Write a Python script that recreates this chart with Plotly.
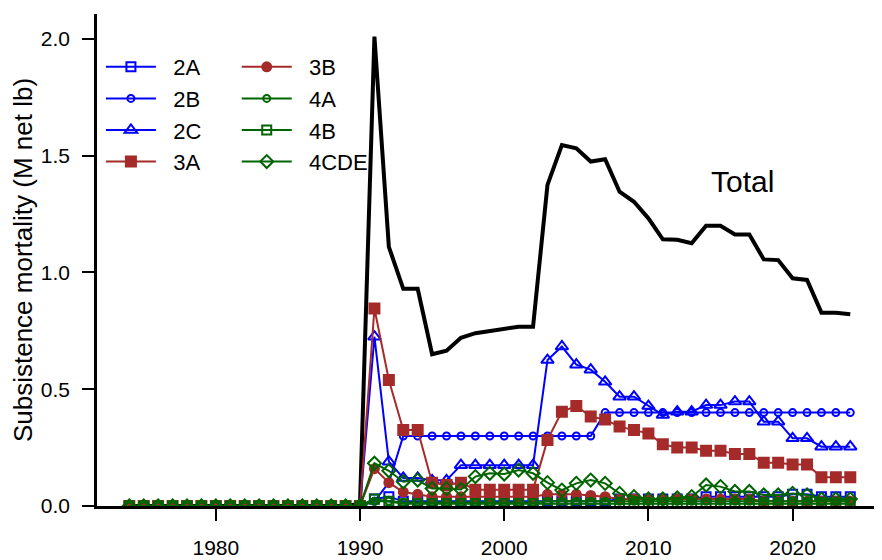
import plotly.graph_objects as go

years = list(range(1974, 2025))

total = [0.0, 0.0, 0.0, 0.0, 0.0, 0.0, 0.0, 0.0, 0.0, 0.0, 0.0, 0.0, 0.0, 0.0, 0.0, 0.0,
         0.01, 2.01, 1.11, 0.93, 0.93, 0.65, 0.665, 0.72, 0.74, 0.75,
         0.757, 0.768, 0.768, 1.375, 1.546, 1.532, 1.475, 1.485, 1.346, 1.303,
         1.232, 1.142, 1.14, 1.125, 1.20, 1.20, 1.163, 1.163, 1.056, 1.053,
         0.975, 0.968, 0.828, 0.828, 0.821]

area_2A = [0.0, 0.0, 0.0, 0.0, 0.0, 0.0, 0.0, 0.0, 0.0, 0.0, 0.0, 0.0, 0.0, 0.0, 0.0, 0.0,
           0.0, 0.03, 0.04, 0.02, 0.02, 0.02, 0.02, 0.02, 0.02, 0.02,
           0.02, 0.02, 0.02, 0.02, 0.02, 0.02, 0.02, 0.02, 0.03, 0.03,
           0.03, 0.03, 0.03, 0.03, 0.04, 0.04, 0.04, 0.04, 0.04, 0.04,
           0.05, 0.05, 0.04, 0.04, 0.04]

area_2B = [0.0, 0.0, 0.0, 0.0, 0.0, 0.0, 0.0, 0.0, 0.0, 0.0, 0.0, 0.0, 0.0, 0.0, 0.0, 0.0,
           0.0, 0.02, 0.10, 0.30, 0.30, 0.30, 0.30, 0.30, 0.30, 0.30,
           0.30, 0.30, 0.30, 0.30, 0.30, 0.30, 0.30, 0.40, 0.40, 0.40,
           0.40, 0.40, 0.40, 0.40, 0.40, 0.40, 0.40, 0.40, 0.40, 0.40,
           0.40, 0.40, 0.40, 0.40, 0.40]

area_2C = [0.0, 0.0, 0.0, 0.0, 0.0, 0.0, 0.0, 0.0, 0.0, 0.0, 0.0, 0.0, 0.0, 0.0, 0.0, 0.0,
           0.0, 0.725, 0.19, 0.12, 0.12, 0.11, 0.11, 0.175, 0.175, 0.175,
           0.175, 0.175, 0.175, 0.625, 0.683, 0.605, 0.584, 0.532, 0.468, 0.468,
           0.428, 0.39, 0.404, 0.404, 0.432, 0.432, 0.447, 0.447, 0.361, 0.361,
           0.29, 0.29, 0.254, 0.254, 0.254]

area_3A = [0.0, 0.0, 0.0, 0.0, 0.0, 0.0, 0.0, 0.0, 0.0, 0.0, 0.0, 0.0, 0.0, 0.0, 0.0, 0.0,
           0.0, 0.846, 0.54, 0.325, 0.325, 0.10, 0.09, 0.10, 0.07, 0.07,
           0.07, 0.07, 0.07, 0.283, 0.404, 0.428, 0.383, 0.37, 0.34, 0.325,
           0.311, 0.264, 0.25, 0.25, 0.237, 0.237, 0.223, 0.223, 0.185, 0.185,
           0.178, 0.178, 0.123, 0.123, 0.123]

area_3B = [0.0, 0.0, 0.0, 0.0, 0.0, 0.0, 0.0, 0.0, 0.0, 0.0, 0.0, 0.0, 0.0, 0.0, 0.0, 0.0,
           0.0, 0.16, 0.10, 0.06, 0.05, 0.04, 0.04, 0.04, 0.04, 0.04,
           0.04, 0.04, 0.04, 0.05, 0.05, 0.05, 0.045, 0.04, 0.03, 0.03,
           0.03, 0.03, 0.03, 0.03, 0.03, 0.03, 0.03, 0.03, 0.02, 0.02,
           0.02, 0.02, 0.02, 0.02, 0.02]

area_4A = [0.0, 0.0, 0.0, 0.0, 0.0, 0.0, 0.0, 0.0, 0.0, 0.0, 0.0, 0.0, 0.0, 0.0, 0.0, 0.0,
           0.0, 0.02, 0.02, 0.015, 0.015, 0.015, 0.015, 0.015, 0.015, 0.015,
           0.015, 0.015, 0.015, 0.02, 0.02, 0.02, 0.02, 0.02, 0.02, 0.02,
           0.02, 0.02, 0.02, 0.02, 0.02, 0.02, 0.02, 0.02, 0.02, 0.02,
           0.02, 0.02, 0.02, 0.02, 0.02]

area_4B = [0.0, 0.0, 0.0, 0.0, 0.0, 0.0, 0.0, 0.0, 0.0, 0.0, 0.0, 0.0, 0.0, 0.0, 0.0, 0.0,
           0.0, 0.03, 0.02, 0.01, 0.01, 0.01, 0.01, 0.01, 0.01, 0.01,
           0.01, 0.01, 0.01, 0.01, 0.01, 0.01, 0.01, 0.01, 0.01, 0.01,
           0.01, 0.01, 0.01, 0.01, 0.01, 0.01, 0.01, 0.01, 0.01, 0.01,
           0.01, 0.01, 0.01, 0.01, 0.01]

area_4CDE = [0.0, 0.0, 0.0, 0.0, 0.0, 0.0, 0.0, 0.0, 0.0, 0.0, 0.0, 0.0, 0.0, 0.0, 0.0, 0.0,
             0.0, 0.183, 0.151, 0.104, 0.111, 0.075, 0.075, 0.071, 0.126, 0.14,
             0.137, 0.154, 0.14, 0.10, 0.068, 0.097, 0.111, 0.097, 0.054, 0.04,
             0.03, 0.03, 0.035, 0.04, 0.09, 0.083, 0.062, 0.062, 0.047, 0.047,
             0.054, 0.047, 0.03, 0.03, 0.03]

x_ticks = [1980, 1990, 2000, 2010, 2020]
y_ticks = [0.0, 0.5, 1.0, 1.5, 2.0]

BLUE = "#0000FF"
BROWN = "#A52A2A"
GREEN = "#006400"
FONT = "Arial, Liberation Sans, sans-serif"
PAD = "\u00a0\u00a0"

series = [
    ("2A", area_2A, BLUE, "square-open", 9, "legend"),
    ("2B", area_2B, BLUE, "circle-open", 7, "legend"),
    ("2C", area_2C, BLUE, "triangle-up-open", 11, "legend"),
    ("3A", area_3A, BROWN, "square", 10, "legend"),
    ("3B", area_3B, BROWN, "circle", 9, "legend2"),
    ("4A", area_4A, GREEN, "circle-open", 7, "legend2"),
    ("4B", area_4B, GREEN, "square-open", 9, "legend2"),
    ("4CDE", area_4CDE, GREEN, "diamond-open", 10, "legend2"),
]

fig = go.Figure()

fig.add_trace(go.Scatter(x=years, y=total, mode="lines", name="Total",
                         line=dict(color="black", width=4), showlegend=False))

for name, vals, col, sym, sz, lg in series:
    fig.add_trace(go.Scatter(
        x=years, y=vals, mode="lines+markers", name=PAD + name, legend=lg,
        line=dict(color=col, width=2),
        marker=dict(symbol=sym, size=sz, color=col, line=dict(color=col, width=2)),
    ))

fig.add_annotation(x=2016.5, y=1.39, text="Total", showarrow=False,
                   font=dict(family=FONT, size=30, color="black"))

# page body has an 8px margin; figure sized so plot area lands where the reference has it
fig.update_layout(
    width=874, height=552,
    margin=dict(l=89, r=0, t=6, b=54),
    plot_bgcolor="white", paper_bgcolor="white",
    font=dict(family=FONT, color="black"),
    legend=dict(x=0.005, y=0.935, xanchor="left", yanchor="top",
                bgcolor="rgba(0,0,0,0)", font=dict(size=22, family=FONT),
                itemwidth=50, tracegroupgap=0),
    legend2=dict(x=0.178, y=0.935, xanchor="left", yanchor="top",
                 bgcolor="rgba(0,0,0,0)", font=dict(size=22, family=FONT),
                 itemwidth=50, tracegroupgap=0),
    xaxis=dict(range=[1971.76, 2026.2], tickvals=x_ticks, ticks="outside",
               ticklen=12, tickwidth=2, tickcolor="black",
               showline=True, linecolor="black", linewidth=2.5,
               showgrid=False, zeroline=False, automargin=False,
               tickfont=dict(size=21, family=FONT), ticklabelstandoff=9),
    yaxis=dict(range=[0, 2.107], tickvals=y_ticks, tickformat=".1f",
               ticks="outside", ticklen=12, tickwidth=2, tickcolor="black",
               showline=True, linecolor="black", linewidth=2.5,
               showgrid=False, zeroline=False, automargin=False,
               tickfont=dict(size=21, family=FONT), ticklabelstandoff=8,
               title=dict(text="Subsistence mortality (M net lb)",
                          font=dict(size=26, family=FONT), standoff=1)),
)

fig.write_html("out.html")
